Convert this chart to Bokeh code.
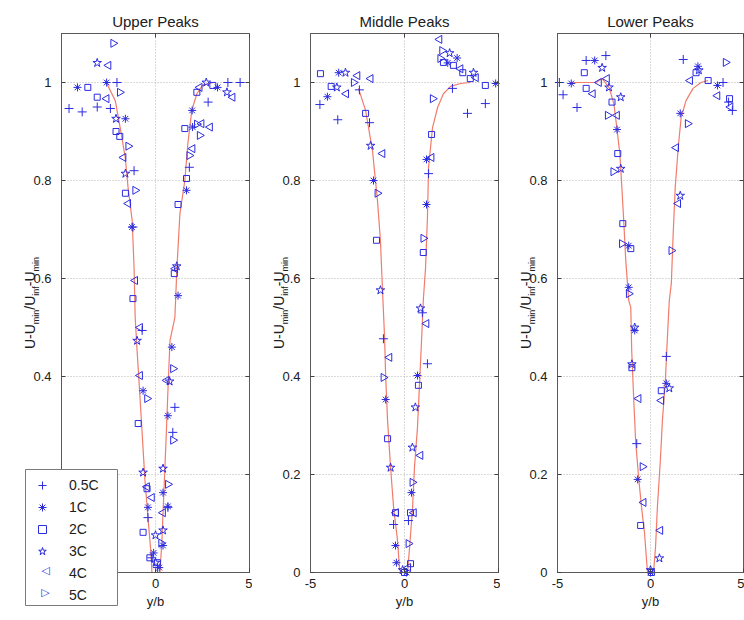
import math
from bokeh.plotting import figure
from bokeh.models import Range1d, FixedTicker, LinearAxis, Label, Legend, LegendItem, BoxAnnotation
from bokeh.layouts import row
from bokeh.embed import file_html
from bokeh.resources import INLINE

# ---------------- data ----------------
TITLES = ["Upper Peaks", "Middle Peaks", "Lower Peaks"]
SERIES = ["0.5C", "1C", "2C", "3C", "4C", "5C"]
XLIM = (-5, 5)
YLIM = (0, 1.1)
X_TICKS = [-5, 0, 5]
X_TICK_LABELS = ["-5", "0", "5"]
Y_TICKS = [0, 0.2, 0.4, 0.6, 0.8, 1.0]
Y_TICK_LABELS = ["0", "0.2", "0.4", "0.6", "0.8", "1"]
X_LABEL = "y/b"
Y_LABEL_PARTS = [("U-U", False), ("min", True), ("/U", False), ("inf", True), ("-U", False), ("min", True)]

# Upper peaks
UP_05_X = [-4.6, -3.9, -3.1, -2.4, -2.05, -1.14, -1.2, -0.71, -0.4, -0.2, 0.1, 0.66, 0.92, 1.03, 1.8, 2.8, 3.85, 4.5]
UP_05_Y = [0.947, 0.94, 0.95, 0.947, 1.0, 0.82, 0.705, 0.494, 0.112, 0.03, 0.01, 0.133, 0.286, 0.337, 0.827, 0.96, 1.0, 1.0]
UP_1_X = [-4.15, -2.6, -1.6, -1.25, -0.66, -0.4, -0.1, 0.2, 0.4, 0.4, 0.66, 0.66, 0.87, 1.2, 1.65, 1.97, 1.95, 3.3]
UP_1_Y = [0.99, 1.0, 0.926, 0.705, 0.371, 0.133, 0.04, 0.01, 0.055, 0.163, 0.32, 0.135, 0.46, 0.565, 0.78, 0.909, 0.943, 0.99]
UP_2_X = [-3.6, -3.1, -2.1, -1.9, -1.6, -1.2, -0.92, -0.45, -0.66, -0.3, 0.1, 1.2, 1.0, 1.56, 1.65, 2.2, 3.05]
UP_2_Y = [0.99, 0.97, 0.90, 0.89, 0.774, 0.559, 0.304, 0.171, 0.082, 0.03, 0.02, 0.751, 0.61, 0.906, 0.804, 0.98, 0.994]
UP_3_X = [-3.1, -2.1, -1.6, -0.98, -0.66, 0.0, 0.0, 0.4, 0.4, 0.75, 1.13, 2.7, 3.8]
UP_3_Y = [1.04, 0.926, 0.814, 0.473, 0.204, 0.076, 0.02, 0.212, 0.086, 0.39, 0.625, 1.0, 0.98]
UP_4_X = [-2.5, -2.6, -1.7, -1.45, -1.08, -0.82, -0.82, -0.19, -0.45, 0.4, 0.6, 1.97, 2.45, 2.9, 2.35, 1.05, 4.1]
UP_4_Y = [1.035, 0.967, 0.847, 0.753, 0.596, 0.50, 0.402, 0.153, 0.175, 0.122, 0.392, 0.865, 0.916, 0.909, 0.99, 0.62, 0.97]
UP_5_X = [-2.25, -1.9, -1.45, -1.08, -0.45, 0.3, 0.66, 0.93, 0.93, 1.8, 2.35, 2.2]
UP_5_Y = [1.08, 0.98, 0.87, 0.78, 0.355, 0.06, 0.18, 0.27, 0.416, 0.851, 0.892, 0.915]
UP_FIT_X = [-2.67, -2.14, -1.88, -1.61, -1.46, -1.24, -1.14, -1.08, -0.98, -0.87, -0.71, -0.56, -0.4, -0.24, -0.19,
            0.24, 0.34, 0.45, 0.56, 0.66, 0.77, 1.03, 1.14, 1.3, 1.56, 1.72, 1.93, 2.2, 2.5, 3.05]
UP_FIT_Y = [1.004, 0.963, 0.908, 0.847, 0.786, 0.718, 0.622, 0.52, 0.453, 0.386, 0.284, 0.188, 0.112, 0.039, 0.0,
            0.0, 0.065, 0.167, 0.27, 0.37, 0.473, 0.52, 0.622, 0.733, 0.80, 0.875, 0.943, 0.977, 0.994, 1.0]

# Middle peaks
MID_05_X = [-4.5, -3.55, -2.4, -1.86, -1.12, -0.58, 0.21, 0.95, 1.22, 1.28, 2.55, 3.35, 4.3]
MID_05_Y = [0.955, 0.924, 0.985, 0.918, 0.477, 0.098, 0.106, 0.53, 0.426, 0.814, 0.988, 0.937, 0.957]
MID_1_X = [-4.1, -3.5, -1.65, -1.0, -0.48, -0.43, 0.1, 0.37, 0.69, 1.17, 1.17, 2.3, 2.8, 4.85]
MID_1_Y = [0.971, 1.02, 0.80, 0.353, 0.055, 0.02, 0.0, 0.163, 0.402, 0.751, 0.843, 1.04, 1.05, 0.998]
MID_2_X = [-4.47, -3.9, -2.07, -1.49, -0.9, -0.48, 0.0, 0.32, 0.74, 0.32, 1.0, 1.44, 2.07, 2.6, 3.5, 4.3, 3.1]
MID_2_Y = [1.018, 0.992, 0.937, 0.678, 0.273, 0.122, 0.0, 0.122, 0.382, 0.018, 0.653, 0.894, 1.041, 1.035, 1.008, 0.994, 1.02]
MID_3_X = [-3.14, -3.6, -1.8, -1.28, -0.74, -0.1, 0.42, 0.58, 0.85, 3.67, 2.4]
MID_3_Y = [1.02, 0.99, 0.871, 0.576, 0.214, 0.005, 0.255, 0.337, 0.539, 1.02, 1.06]
MID_4_X = [-2.5, -1.8, -3.1, -1.17, -0.8, -0.45, 0.2, 0.5, 0.85, 1.17, 1.44, 1.86, 2.98, 3.8]
MID_4_Y = [1.014, 1.008, 0.977, 0.855, 0.439, 0.122, 0.01, 0.122, 0.239, 0.508, 0.847, 1.088, 1.028, 1.01]
MID_5_X = [-2.7, -1.44, -1.12, 0.21, 0.42, 1.0, 1.5, 1.9, 2.0]
MID_5_Y = [1.0, 0.774, 0.398, 0.059, 0.184, 0.682, 0.967, 1.049, 1.065]
MID_FIT_X = [-2.45, -2.07, -1.7, -1.44, -1.28, -1.17, -1.06, -1.0, -0.9, -0.74, -0.58, -0.37, -0.27, -0.21,
             0.16, 0.27, 0.43, 0.53, 0.69, 0.8, 0.9, 1.0, 1.12, 1.22, 1.28, 1.49, 1.76, 2.07, 2.45, 2.98, 3.5]
MID_FIT_Y = [0.988, 0.943, 0.86, 0.76, 0.678, 0.576, 0.48, 0.398, 0.31, 0.214, 0.133, 0.065, 0.01, 0.0,
             0.0, 0.051, 0.133, 0.214, 0.296, 0.386, 0.467, 0.555, 0.622, 0.724, 0.827, 0.908, 0.949, 0.977, 0.992, 0.998, 1.0]

# Lower peaks
LOW_05_X = [-4.9, -4.7, -3.95, -3.46, -2.4, -0.74, 0.85, 1.76, 3.9, 4.2, 4.4]
LOW_05_Y = [1.0, 0.975, 0.949, 1.045, 1.055, 0.263, 0.441, 1.047, 1.0, 0.96, 0.943]
LOW_1_X = [-4.26, -3.0, -1.8, -1.17, -1.17, -0.69, -0.85, 0.0, 0.85, 1.6, 2.55, 3.6]
LOW_1_Y = [0.998, 1.045, 0.904, 0.667, 0.582, 0.19, 0.494, 0.0, 0.386, 0.937, 1.033, 0.994]
LOW_2_X = [-3.56, -3.46, -2.07, -1.76, -1.49, -1.06, -1.0, -0.53, 0.05, 0.58, 2.45, 3.1, 4.25]
LOW_2_Y = [1.02, 0.988, 0.96, 0.855, 0.712, 0.661, 0.418, 0.096, 0.0, 0.371, 1.02, 1.004, 0.967]
LOW_3_X = [-2.6, -2.23, -1.6, -1.6, -0.85, -1.0, 0.0, 0.48, 1.01, 1.6, 2.6]
LOW_3_Y = [1.03, 0.99, 0.97, 0.824, 0.50, 0.425, 0.005, 0.029, 0.376, 0.769, 1.025]
LOW_4_X = [-3.1, -2.77, -2.34, -1.8, -0.64, -0.37, 0.53, 0.58, 1.38, 1.49, 2.13, 3.6, 4.3]
LOW_4_Y = [0.977, 1.0, 1.008, 0.933, 0.355, 0.143, 0.086, 0.351, 0.867, 0.753, 1.004, 0.973, 0.95]
LOW_5_X = [-2.3, -2.0, -1.54, -1.17, -0.43, 1.12, 2.0, 4.04]
LOW_5_Y = [0.933, 0.818, 0.671, 0.569, 0.216, 0.657, 0.916, 1.041]
LOW_FIT_X = [-4.26, -2.93, -2.6, -2.23, -1.97, -1.81, -1.65, -1.54, -1.44, -1.33, -1.17, -1.06, -1.01, -0.9, -0.8,
             -0.64, -0.48, -0.32, -0.21, -0.16, 0.16, 0.27, 0.37, 0.53, 0.64, 0.8, 0.9, 1.01, 1.12, 1.22, 1.33,
             1.49, 1.65, 1.91, 2.29, 2.71, 3.09]
LOW_FIT_Y = [1.0, 1.0, 1.008, 0.99, 0.957, 0.908, 0.855, 0.786, 0.718, 0.637, 0.555, 0.541, 0.453, 0.351, 0.269,
             0.194, 0.133, 0.08, 0.024, 0.0, 0.0, 0.051, 0.133, 0.229, 0.31, 0.392, 0.473, 0.555, 0.59, 0.692, 0.786,
             0.867, 0.929, 0.963, 0.988, 1.0, 1.004]

PANELS = [
    dict(title=TITLES[0],
         series=[(UP_05_X, UP_05_Y), (UP_1_X, UP_1_Y), (UP_2_X, UP_2_Y), (UP_3_X, UP_3_Y), (UP_4_X, UP_4_Y), (UP_5_X, UP_5_Y)],
         fit=(UP_FIT_X, UP_FIT_Y)),
    dict(title=TITLES[1],
         series=[(MID_05_X, MID_05_Y), (MID_1_X, MID_1_Y), (MID_2_X, MID_2_Y), (MID_3_X, MID_3_Y), (MID_4_X, MID_4_Y), (MID_5_X, MID_5_Y)],
         fit=(MID_FIT_X, MID_FIT_Y)),
    dict(title=TITLES[2],
         series=[(LOW_05_X, LOW_05_Y), (LOW_1_X, LOW_1_Y), (LOW_2_X, LOW_2_Y), (LOW_3_X, LOW_3_Y), (LOW_4_X, LOW_4_Y), (LOW_5_X, LOW_5_Y)],
         fit=(LOW_FIT_X, LOW_FIT_Y)),
]

# ---------------- layout / style ----------------
FONT = "Liberation Sans"
TEXT_COLOR = "#202020"
BOX_COLOR = "#5a5a5a"
MARK_COLOR = "#2b2be0"
FIT_COLOR = "#f07c6c"
GRID_COLOR = "#b4b4b4"
# (marker, angle, size, legend stand-in character when the legend cannot rotate the marker)
MARKERS = [("cross", 0.0, 9, None), ("asterisk", 0.0, 8, None), ("square", 0.0, 6, None), ("star", 0.0, 9, None),
           ("triangle", math.pi / 2, 8, "\u25c1"), ("triangle", -math.pi / 2, 8, "\u25b7")]
FIG_H = 616
BOX_TOP, BOX_BOTTOM = 33, 572          # pixel rows of the axes box
FIG_W = [252, 248, 244]                # canvas widths
BOX_LEFT = [61, 58, 57]                # box left edge inside each canvas
BOX_W = [188, 188, 186]                # box widths
MAIN_PX, SUB_PX = 14, 9
ADV = {"U": 0.722, "-": 0.333, "/": 0.278, "m": 0.833, "i": 0.222, "n": 0.556, "f": 0.278}
# legend geometry (screen px, from the canvas bottom-left)
LEG_LEFT, LEG_BOTTOM = 25, FIG_H - 605
LEG_PAD, LEG_ROW, LEG_SPACING, LEG_GLYPH_W, LEG_STANDOFF, LEG_LABEL_W = 3, 20, 2, 34, 10, 42


def text_width(s, px):
    return sum(ADV[c] for c in s) * px


def make_panel(i, panel, with_legend):
    fw, bl, bw = FIG_W[i], BOX_LEFT[i], BOX_W[i]
    sx = bw / (XLIM[1] - XLIM[0])
    sy = (BOX_BOTTOM - BOX_TOP) / (YLIM[1] - YLIM[0])
    xr = Range1d(XLIM[0] - bl / sx, XLIM[1] + (fw - bl - bw) / sx)
    yr = Range1d(YLIM[0] - (FIG_H - BOX_BOTTOM) / sy, YLIM[1] + BOX_TOP / sy)

    p = figure(width=fw, height=FIG_H, x_range=xr, y_range=yr, min_border=0,
               x_axis_type=None, y_axis_type=None,
               output_backend="svg", toolbar_location=None, tools="")
    p.title.visible = False
    p.outline_line_color = None
    p.background_fill_color = "white"
    p.border_fill_color = "white"
    p.xgrid.visible = False
    p.ygrid.visible = False

    # dotted grid inside the box
    p.segment(x0=X_TICKS[1:-1], y0=[YLIM[0]] * (len(X_TICKS) - 2), x1=X_TICKS[1:-1], y1=[YLIM[1]] * (len(X_TICKS) - 2),
              line_color=GRID_COLOR, line_dash="1 2", line_width=1)
    p.segment(x0=[XLIM[0]] * (len(Y_TICKS) - 1), y0=Y_TICKS[1:], x1=[XLIM[1]] * (len(Y_TICKS) - 1), y1=Y_TICKS[1:],
              line_color=GRID_COLOR, line_dash="1 2", line_width=1)

    # fitted curve and data
    fx, fy = panel["fit"]
    p.line(fx, fy, line_color=FIT_COLOR, line_width=1.2)
    rends = []
    for (xs, ys), (mk, ang, sz, _) in zip(panel["series"], MARKERS):
        r = p.scatter(xs, ys, marker=mk, angle=ang, size=sz, line_color=MARK_COLOR,
                      fill_color=None, line_width=1)
        rends.append(r)

    # box
    p.quad(left=[XLIM[0]], right=[XLIM[1]], bottom=[YLIM[0]], top=[YLIM[1]],
           fill_color=None, line_color=BOX_COLOR, line_width=1)
    # mirrored ticks on right and top
    p.ray(x=[XLIM[1]] * len(Y_TICKS), y=Y_TICKS, length=4, length_units="screen", angle=math.pi,
          line_color="#404040", line_width=1)
    p.ray(x=X_TICKS, y=[YLIM[1]] * len(X_TICKS), length=4, length_units="screen", angle=-math.pi / 2,
          line_color="#404040", line_width=1)

    # real axes pinned to the box edges
    yax = LinearAxis(fixed_location=XLIM[0], bounds=YLIM, ticker=FixedTicker(ticks=Y_TICKS),
                     major_label_overrides=dict(zip(Y_TICKS, Y_TICK_LABELS)))
    xax = LinearAxis(fixed_location=YLIM[0], bounds=XLIM, ticker=FixedTicker(ticks=X_TICKS),
                     major_label_overrides=dict(zip(X_TICKS, X_TICK_LABELS)),
                     axis_label=X_LABEL)
    for ax in (xax, yax):
        ax.axis_line_color = BOX_COLOR
        ax.major_tick_in = 4
        ax.major_tick_out = 0
        ax.minor_tick_in = 0
        ax.minor_tick_out = 0
        ax.major_tick_line_color = "#404040"
        ax.major_label_text_font = FONT
        ax.major_label_text_font_size = "13px"
        ax.major_label_text_color = TEXT_COLOR
    yax.major_label_standoff = 10
    xax.major_label_standoff = 6
    xax.axis_label_text_font = FONT
    xax.axis_label_text_font_size = "13px"
    xax.axis_label_text_font_style = "normal"
    xax.axis_label_text_color = TEXT_COLOR
    xax.axis_label_standoff = 3
    p.add_layout(yax, "left")
    p.add_layout(xax, "below")

    # title
    p.add_layout(Label(x=0, y=YLIM[1], x_units="data", y_units="data", y_offset=12, text=panel["title"],
                       text_align="center", text_baseline="alphabetic", text_font=FONT,
                       text_font_size="15px", text_color=TEXT_COLOR))

    # y label with subscripts
    total = sum(text_width(s, SUB_PX if sub else MAIN_PX) for s, sub in Y_LABEL_PARTS)
    pos = (BOX_BOTTOM - BOX_TOP) / 2 - total / 2
    for s, sub in Y_LABEL_PARTS:
        px = SUB_PX if sub else MAIN_PX
        p.add_layout(Label(x=XLIM[0], y=YLIM[0], x_offset=-26 if sub else -32, y_offset=pos,
                           text=s, angle=math.pi / 2, text_align="left", text_baseline="alphabetic",
                           text_font=FONT, text_font_size=f"{px}px", text_color=TEXT_COLOR))
        pos += text_width(s, px)

    if with_legend:
        items = []
        stand_ins = []
        for k, (name, r, mk) in enumerate(zip(SERIES, rends, MARKERS)):
            if mk[3] is None:
                items.append(LegendItem(label=name, renderers=[r]))
            else:
                # legend markers are never rotated: use a hidden stand-in and draw the rotated glyph as text
                ghost = p.scatter(x=[], y=[], marker=mk[0], size=mk[2], line_alpha=0, fill_alpha=0)
                items.append(LegendItem(label=name, renderers=[ghost]))
                stand_ins.append((k, mk[3]))
        n = len(items)
        leg_h = 2 * LEG_PAD + n * LEG_ROW + (n - 1) * LEG_SPACING
        leg_w = 2 * LEG_PAD + LEG_GLYPH_W + LEG_STANDOFF + LEG_LABEL_W
        # opaque white legend box (drawn first), then rotated stand-in glyphs, then the transparent legend
        p.add_layout(BoxAnnotation(left=LEG_LEFT, right=LEG_LEFT + leg_w, bottom=LEG_BOTTOM, top=LEG_BOTTOM + leg_h,
                                   left_units="screen", right_units="screen", bottom_units="screen", top_units="screen",
                                   fill_color="white", fill_alpha=1.0, line_color="#7a7a7a", line_width=1,
                                   line_alpha=1.0))
        for k, ch in stand_ins:
            cy = LEG_BOTTOM + leg_h - LEG_PAD - LEG_ROW / 2 - k * (LEG_ROW + LEG_SPACING)
            cx = LEG_LEFT + LEG_PAD + LEG_GLYPH_W / 2
            p.add_layout(Label(x=cx, y=cy, x_units="screen", y_units="screen", text=ch,
                               text_align="center", text_baseline="middle", text_font="DejaVu Sans",
                               text_font_size="11px", text_color=MARK_COLOR))
        leg = Legend(items=items, location=(LEG_LEFT, LEG_BOTTOM), orientation="vertical",
                     border_line_color=None, background_fill_alpha=0.0,
                     label_text_font=FONT, label_text_font_size="14px", label_text_color=TEXT_COLOR,
                     glyph_width=LEG_GLYPH_W, glyph_height=LEG_ROW, label_height=LEG_ROW,
                     spacing=LEG_SPACING, padding=LEG_PAD,
                     label_standoff=LEG_STANDOFF, label_width=LEG_LABEL_W, margin=0)
        p.add_layout(leg, "center")
    return p


figs = [make_panel(i, pn, i == 0) for i, pn in enumerate(PANELS)]
layout = row(*figs, spacing=0)
open("out.html", "w").write(file_html(layout, INLINE))
